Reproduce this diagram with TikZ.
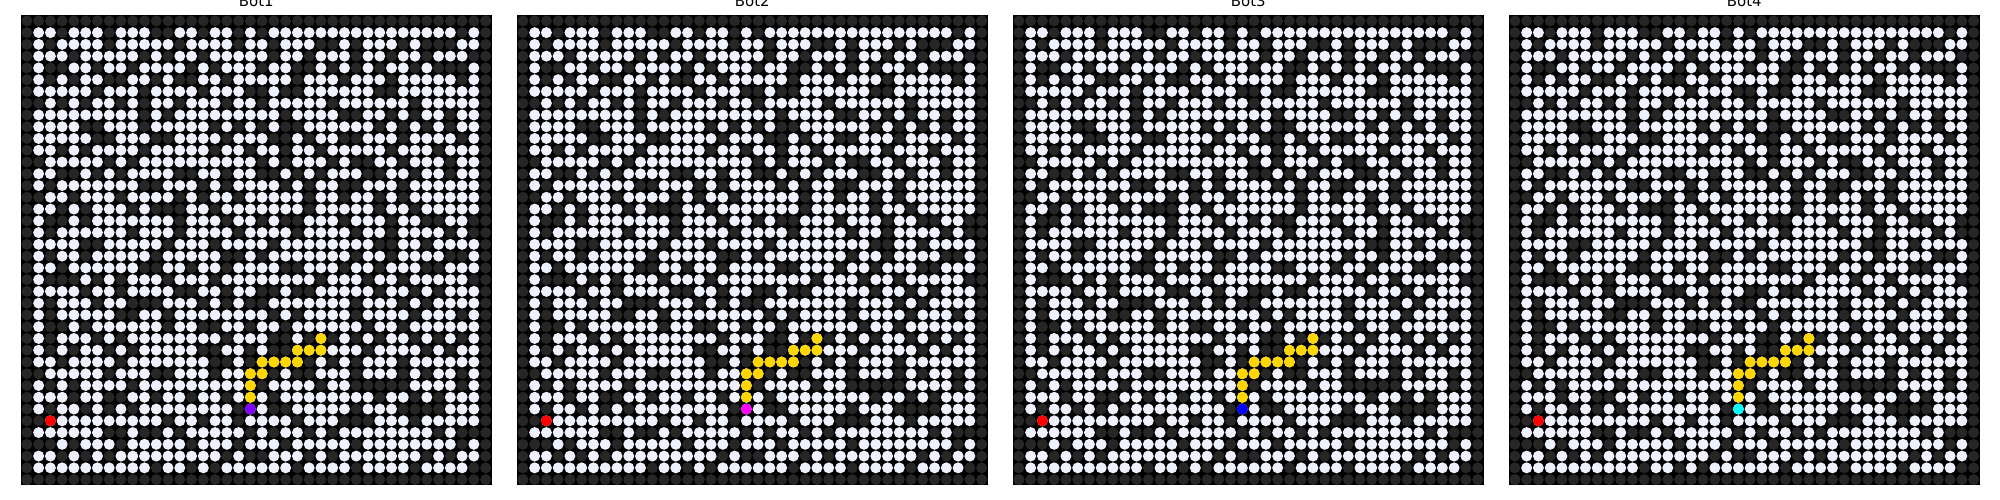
\documentclass[tikz,border=0pt]{standalone}
\usepackage{fontspec}
\newfontfamily\titlefont{DejaVu Sans}
\definecolor{wallgray}{HTML}{262626}
\definecolor{floorwhite}{HTML}{EEF0FC}
\definecolor{pathgold}{HTML}{FFD700}
\definecolor{goalred}{HTML}{FF0000}
\definecolor{botviolet}{HTML}{7F00FF}
\definecolor{botmagenta}{HTML}{FF00FF}
\definecolor{botblue}{HTML}{0000FF}
\definecolor{botcyan}{HTML}{00FFFF}

% interior of the maze, 1 = open cell
\def\mazerows{
11011101110011011010111111111111111101,
10111101111101111011011100101110100011,
11101111101011011111011011101101101110,
10011011011110101110110010101011010001,
10101100110100110111110111011101111101,
11111011101111011100100111111001111111,
01010110101101110110111110111111011111,
11111111101011111111101111001101011011,
11110011101111101010100111111010101011,
11111001110011110111001011001110111101,
11010111101111101101101101111101110111,
01111101011111111110101110100110111011,
11001010111100110110010101110011011011,
10111111100111010111101011001110111111,
01101110111101011011111011011010111111,
11010111010001101111111011111011011111,
10010111111101110110100111011101100110,
10111111011101111011110111101101111010,
11110011111011101111011111111001101111,
10110111110111110010111111101101111001,
11011111100110110111100111011011100111,
10001010111011101111111101110110111110,
11110110111100110110010011111011010111,
10111011000111010100111111101110101111,
10111110011011111111010111101111011101,
10010111111011001101101111110110111111,
10111010111111110111001010101011010101,
10101101011111001101001111110111101011,
11011110111111100101111010101110111111,
01111101110011101111010011101110101101,
10101111011111111110111101100000111101,
11101100110110110111011111111011010111,
10110101011111111011001111101110000111,
01111111111011011011110111000111011111,
11111100100101111101011010111111110100,
00101110111110111011101111101111111101,
11010101111111110100111010111111101011,
11111111110110101111110111101111011110}

\newcount\colidx
\def\scancells#1{%
  \ifx#1\relax\else
    \advance\colidx by 1
    \ifx#11\path[cellopen] (\the\colidx+0.5,\rowno+0.5) circle[radius=5.5bp];%
    \else\path[cellwall] (\the\colidx+0.5,\rowno+0.5) circle[radius=5.5bp];\fi
    \expandafter\scancells
  \fi}

\begin{document}
\begin{tikzpicture}[x=1bp,y=1bp,
 cellopen/.style={fill=floorwhite},
 cellwall/.style={fill=wallgray},
 pathcell/.style={fill=pathgold},
 goalcell/.style={fill=goalred},
 titletext/.style={font=\titlefont\fontsize{15}{18}\selectfont,anchor=base,inner sep=0pt}]
\useasboundingbox (0,0) rectangle (2000,500);
\fill[white] (0,0) rectangle (2000,500);
\foreach \botname/\botcol [count=\panel from 0] in {Bot1/botviolet,Bot2/botmagenta,Bot3/botblue,Bot4/botcyan}{
 \begin{scope}[shift={({(21+496*\panel)*1bp},485bp)},x=11.7625bp,y=-11.7625bp]
  \fill[black] (0,0) rectangle (40,40);
  % outer wall
  \foreach \k in {0,...,39}
   \path[cellwall] (\k+0.5,0.5) circle[radius=5.5bp] (\k+0.5,39.5) circle[radius=5.5bp]
    (0.5,\k+0.5) circle[radius=5.5bp] (39.5,\k+0.5) circle[radius=5.5bp];
  \foreach \row [count=\rowno] in \mazerows {\colidx=0 \expandafter\scancells\row\relax}
  % planned route, bot and goal
  \foreach \cc/\rr in {25/27,23/28,24/28,25/28,20/29,21/29,22/29,23/29,19/30,20/30,19/31,19/32}
   \path[pathcell] (\cc+0.5,\rr+0.5) circle[radius=5.5bp];
  \path[fill=\botcol] (19.5,33.5) circle[radius=5.5bp];
  \path[goalcell] (2.5,34.5) circle[radius=5.5bp];
  \node[titletext] (title\panel) at (20,-0.68) {\botname};
 \end{scope}
}
\end{tikzpicture}
\end{document}
